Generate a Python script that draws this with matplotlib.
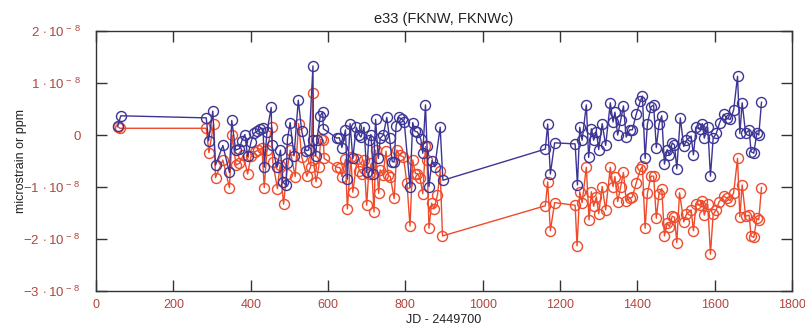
import matplotlib
matplotlib.use('Agg')
import matplotlib.pyplot as plt
import matplotlib.ticker as mticker
import numpy as np

# ── Data (values in units of 1e-8) ──────────────────────────
SCALE = 1e-8

fknw_jd = [56, 64, 285, 291, 302, 309, 328, 345, 351, 361, 371, 377, 385, 392,
           401, 408, 416, 425, 432, 435, 442, 453, 455, 468, 477, 483, 492, 493,
           495, 502, 512, 523, 532, 543, 550, 561, 562, 568, 571, 580, 586, 588,
           623, 629, 636, 645, 650, 657, 664, 673, 681, 685, 693, 700, 705, 711,
           717, 723, 730, 735, 743, 752, 759, 766, 771, 776, 783, 790, 797, 812,
           819, 825, 831, 840, 845, 852, 856, 861, 869, 876, 890, 897,
           1162, 1168, 1175, 1186, 1239, 1245, 1251, 1257, 1268, 1274, 1281, 1287,
           1294, 1300, 1309, 1318, 1330, 1337, 1342, 1349, 1357, 1364, 1371, 1380,
           1387, 1397, 1408, 1413, 1420, 1426, 1435, 1442, 1449, 1456, 1463, 1470,
           1477, 1483, 1490, 1496, 1502, 1511, 1520, 1527, 1539, 1545, 1552, 1561,
           1568, 1573, 1582, 1589, 1596, 1604, 1613, 1623, 1632, 1640, 1649, 1659,
           1665, 1671, 1680, 1689, 1694, 1701, 1709, 1714, 1721]
fknw_val = [0.17, 0.37, 0.33, -0.11, 0.46, -0.58, -0.20, -0.72, 0.28, -0.29, -0.26,
            -0.11, 0.01, -0.41, -0.13, 0.03, 0.07, 0.12, 0.13, -0.62, 0.06, 0.53,
            -0.20, -0.62, -0.29, -0.90, -0.97, -0.53, -0.08, 0.24, -0.40, 0.67,
            0.08, -0.30, -0.29, 1.33, -0.10, -0.40, -0.10, 0.37, 0.44, 0.12,
            -0.06, -0.05, -0.24, 0.10, -0.84, 0.22, -0.45, 0.15, 0.00, -0.04, 0.15,
            -0.72, -0.10, 0.01, -0.74, 0.30, -0.45, -0.06, 0.00, 0.34, -0.06, -0.51,
            -0.52, 0.18, 0.34, 0.31, 0.26, -1.00, 0.24, 0.07, 0.06, -0.08, -0.35,
            0.58, -0.22, -0.99, -0.49, -0.61, 0.15, -0.87,
            -0.27, 0.21, -0.75, -0.15, -0.17, -0.96, 0.15, -0.10, 0.58, -0.43, 0.12,
            -0.10, 0.06, -0.28, 0.22, -0.20, 0.62, 0.25, 0.44, 0.00, 0.29, 0.56,
            -0.04, 0.10, 0.10, 0.40, 0.66, 0.75, -0.45, 0.21, 0.54, 0.58, -0.24,
            0.21, 0.37, -0.56, -0.28, -0.39, -0.15, -0.19, -0.65, 0.33, -0.22,
            -0.10, -0.02, -0.38, 0.15, 0.11, 0.22, -0.06, 0.15, -0.79, -0.06, 0.03,
            0.24, 0.40, 0.32, 0.30, 0.48, 1.13, 0.03, 0.62, 0.03, 0.10, -0.32,
            -0.35, 0.04, 0.00, 0.63]

fknwc_jd = [56, 62, 285, 292, 304, 309, 328, 345, 352, 362, 371, 381, 392, 401,
            411, 420, 429, 435, 442, 455, 457, 469, 476, 485, 493, 502, 515, 524,
            532, 545, 555, 561, 562, 569, 576, 581, 588, 590, 624, 631, 636, 645,
            650, 659, 664, 675, 681, 688, 693, 700, 705, 712, 719, 723, 731, 735,
            742, 750, 755, 761, 771, 778, 785, 795, 804, 812, 819, 826, 831, 838,
            845, 852, 856, 861, 868, 874, 883, 890, 896,
            1162, 1168, 1175, 1186, 1239, 1244, 1251, 1257, 1268, 1275, 1281, 1287,
            1294, 1300, 1309, 1318, 1330, 1337, 1342, 1349, 1357, 1364, 1371, 1380,
            1387, 1397, 1408, 1413, 1420, 1426, 1435, 1442, 1449, 1456, 1463, 1470,
            1477, 1483, 1490, 1496, 1502, 1509, 1520, 1527, 1539, 1545, 1552, 1561,
            1568, 1573, 1582, 1589, 1596, 1604, 1611, 1623, 1632, 1640, 1649, 1659,
            1665, 1671, 1680, 1689, 1694, 1701, 1709, 1714, 1721]
fknwc_val = [0.16, 0.13, 0.13, -0.34, 0.21, -0.82, -0.48, -1.01, 0.00, -0.58, -0.54,
             -0.38, -0.75, -0.40, -0.32, -0.29, -0.25, -1.01, -0.28, 0.15, -0.51,
             -1.03, -0.58, -1.33, -0.74, -0.29, -0.80, 0.22, -0.42, -0.79, -0.61,
             0.81, -0.48, -0.90, -0.61, -0.08, -0.10, -0.45, -0.62, -0.63, -0.80,
             -0.47, -1.42, -0.42, -1.10, -0.47, -0.69, -0.74, -0.48, -1.35, -0.74,
             -0.54, -1.48, -0.29, -1.12, -0.67, -0.77, -0.31, -0.76, -0.80, -1.22,
             -0.29, -0.39, -0.42, -0.93, -1.75, -0.48, -0.74, -0.74, -0.83, -1.13,
             -0.22, -0.48, -1.79, -1.31, -1.42, -1.15, -0.69, -1.94,
             -1.36, -0.90, -1.84, -1.30, -1.35, -2.13, -1.09, -1.30, -0.62, -1.63,
             -1.09, -1.37, -1.19, -1.51, -0.99, -1.44, -0.62, -0.99, -0.80, -1.28,
             -0.99, -0.72, -1.26, -1.22, -1.19, -0.92, -0.66, -0.60, -1.79, -1.12,
             -0.79, -0.79, -1.60, -1.13, -1.03, -1.94, -1.69, -1.76, -1.56, -1.58,
             -2.07, -1.11, -1.67, -1.52, -1.44, -1.84, -1.33, -1.35, -1.26, -1.54,
             -1.33, -2.29, -1.52, -1.44, -1.29, -1.17, -1.22, -1.26, -1.11, -0.45,
             -1.57, -0.96, -1.56, -1.54, -1.94, -1.97, -1.60, -1.63, -1.01]

x_ticks = [0, 200, 400, 600, 800, 1000, 1200, 1400, 1600, 1800]
y_ticks = [-3, -2, -1, 0, 1, 2]

# ── Style ───────────────────────────────────────────────────
BLUE = '#3d3595'
RED = '#ee4a2b'
TICKRED = '#b0463e'
AXGRAY = '#333333'

plt.rcParams.update({
    'font.family': ['Liberation Sans', 'DejaVu Sans'],
    'mathtext.fontset': 'custom',
    'mathtext.rm': 'Liberation Sans',
    'mathtext.it': 'Liberation Sans',
    'font.size': 9,
})


def sci_label(v, pos):
    n = int(round(v / SCALE))
    if n == 0:
        return '0'
    sign = '-' if n < 0 else ''
    return '$%s%d\\,\\cdot 10^{\\,-\\,8}$' % (sign, abs(n))


fig = plt.figure(figsize=(8.05, 3.3), dpi=100)
ax = fig.add_axes([0.1193, 0.118, 0.8646, 0.788])

ax.plot(fknwc_jd, np.array(fknwc_val) * SCALE, '-o', color=RED, lw=1.0,
        markersize=7.2, markerfacecolor='none', markeredgewidth=1.0)
ax.plot(fknw_jd, np.array(fknw_val) * SCALE, '-o', color=BLUE, lw=1.0,
        markersize=7.2, markerfacecolor='none', markeredgewidth=1.0)

ax.set_xlim(0, 1800)
ax.set_ylim(-3 * SCALE, 2 * SCALE)
ax.set_xticks(x_ticks)
ax.set_yticks([t * SCALE for t in y_ticks])
ax.yaxis.set_major_formatter(mticker.FuncFormatter(sci_label))

ax.tick_params(direction='in', length=8, width=1, top=True, right=True,
               colors=AXGRAY, labelcolor=TICKRED)
ax.tick_params(axis='x', pad=6, labelsize=9)
ax.tick_params(axis='y', pad=11, labelsize=9.5)
for s in ax.spines.values():
    s.set_color(AXGRAY)
    s.set_linewidth(1.0)

ax.set_title('e33 (FKNW, FKNWc)', fontsize=10.5, color='#222222', pad=6)
ax.set_xlabel('JD - 2449700', fontsize=9, color='#222222', labelpad=2)
ax.set_ylabel('microstrain or ppm', fontsize=9, color='#222222')
ax.yaxis.set_label_coords(-0.099, 0.5)

fig.savefig('out.png', dpi=100)
